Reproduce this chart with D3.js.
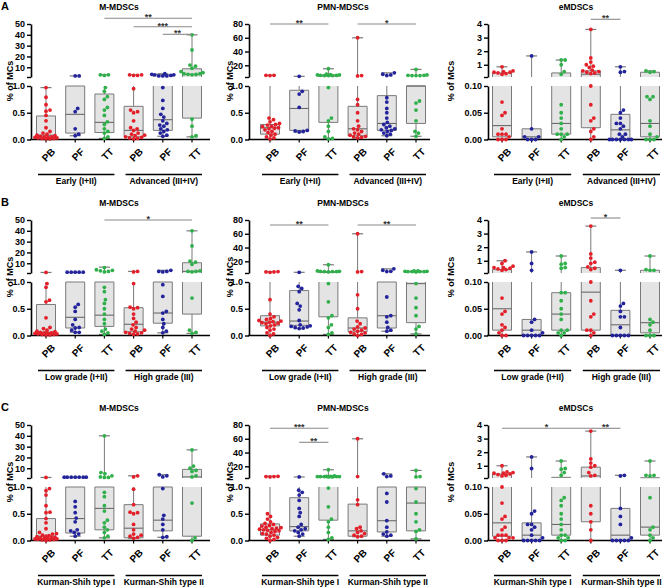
<!DOCTYPE html>
<html><head><meta charset="utf-8">
<script src="https://cdn.jsdelivr.net/npm/d3@7"></script>
<style>body{margin:0;background:#fff}text{font-family:"Liberation Sans",Arial,sans-serif;font-weight:bold}</style>
</head><body><script>
// ---------------- DATA ----------------
const categories = ["PB","PF","TT","PB","PF","TT"];
const panelTitles = ["M-MDSCs","PMN-MDSCs","eMDSCs"];
const rowLetters = ["A","B","C"];
const stageLabels = [["Early (I+II)","Advanced (III+IV)"],["Low grade (I+II)","High grade (III)"],["Kurman-Shih type I","Kurman-Shih type II"]];
const yAxisTitle = "% of MCs";
const lowerDomains = [[0,1],[0,1],[0,0.1]];
const upperDomains = [[1,50],[3,80],[0.1,4]];
const lowerTicks = [[0,0.5,1],[0,0.5,1],[0,0.05,0.1]];
const upperTicks = [[10,20,30,40,50],[20,40,60,80],[1,2,3,4]];

// box stats: [min, q1, median, q3, max]
const ptsA1 = [
 [0.97,0.79,0.65,0.55,0.53,0.45,0.35,0.22,0.15,0.12,0.1,0.08,0.07,0.06,0.05,0.05,0.04,0.04,0.03,0.03,0.02,0.02,0.01,0.01],
 [2,2,0.58,0.52,0.2,0.1,0.07],
 [3,3,2.5,0.97,0.9,0.8,0.75,0.6,0.55,0.45,0.33,0.28,0.2,0.15,0.12,0.05,0.02],
 [3,3,2.5,2.5,0.95,0.55,0.52,0.5,0.35,0.22,0.2,0.17,0.12,0.1,0.08,0.07,0.05,0.04,0.03,0.02,0.01],
 [4,3.5,3,3,2.5,2,2,2,0.97,0.73,0.58,0.47,0.42,0.35,0.3,0.27,0.25,0.2,0.18,0.15,0.12,0.08,0.06],
 [40,26,12,11,9,6,5,4,4,3.5,3.3,3,0.38,0.25,0.07,0.05]];
const boxA1 = [[0,0.03,0.08,0.44,0.97],[0.07,0.12,0.47,1.0,2],[0.02,0.13,0.32,0.85,3],[0.01,0.05,0.17,0.62,3],[0.06,0.17,0.37,3,4],[0.05,0.4,3.4,8.6,40]];
const sigA1 = [[2,5,"**"],[3,5,"***"],[4,5,"**"]];

const ptsA2 = [
 [5.5,5.5,5,0.4,0.37,0.33,0.3,0.28,0.27,0.25,0.24,0.22,0.21,0.2,0.18,0.15,0.13,0.1,0.08,0.05,0.03,0.01],
 [4,0.9,0.85,0.6,0.17,0.16,0.15,0.14],
 [15,7,6.5,6,6,5.5,5.5,5,5,5,0.97,0.4,0.35,0.25,0.15,0.05,0.02,0.01],
 [60,5,4.5,0.75,0.65,0.5,0.35,0.25,0.2,0.18,0.15,0.12,0.1,0.08,0.06,0.05,0.04,0.03],
 [9,7,6,5,0.78,0.7,0.58,0.5,0.4,0.32,0.28,0.25,0.22,0.2,0.18,0.17,0.15,0.12,0.1,0.07],
 [14,6,5.5,5.5,5,5,5,0.72,0.68,0.55,0.35,0.15,0.12,0.06]];
const boxA2 = [[0.01,0.1,0.22,0.28,5.5],[0.14,0.17,0.58,0.92,4],[0.01,0.32,4.5,6,15],[0.03,0.07,0.2,0.62,60],[0.07,0.17,0.3,0.82,9],[0.06,0.3,1.0,1.0,14]];
const sigA2 = [[0,2,"**"],[3,5,"*"]];

const ptsA3 = [
 [0.85,0.55,0.5,0.45,0.45,0.4,0.35,0.3,0.07,0.05,0.045,0.02,0.01,0.01,0.01,0.005,0,0,0],
 [1.65,0.02,0.005,0.005,0,0,0],
 [1.35,1.35,1.0,0.5,0.3,0.065,0.05,0.04,0.03,0.02,0.01,0.01,0.01,0.005,0],
 [3.6,1.5,1.2,1.0,0.9,0.8,0.6,0.55,0.5,0.45,0.4,0.35,0.1,0.065,0.04,0.035,0.02,0.015,0.005,0],
 [0.85,0.5,0.45,0.055,0.05,0.04,0.03,0.03,0.025,0.02,0.01,0.01,0.005,0,0,0,0,0,0,0],
 [0.55,0.5,0.45,0.08,0.08,0.075,0.035,0.025,0.01,0.005,0,0,0]];
const boxA3 = [[0,0.005,0.026,0.4,0.85],[0,0,0.005,0.02,1.65],[0,0.01,0.03,0.4,1.35],[0,0.022,0.3,0.55,3.6],[0,0,0.018,0.047,0.85],[0,0.005,0.03,0.45,0.55]];
const sigA3 = [[3,4,"**"]];

const ptsB1 = [
 [1.5,0.97,0.9,0.66,0.63,0.33,0.15,0.13,0.1,0.08,0.07,0.06,0.05,0.05,0.04,0.04,0.03,0.03,0.02,0.02,0.01,0.01],
 [1.8,1.8,1.8,1.8,1.8,0.58,0.53,0.45,0.3,0.2,0.15,0.14,0.1,0.06,0.06],
 [6,4,3.5,3,2.5,2,0.9,0.82,0.67,0.6,0.5,0.4,0.3,0.22,0.12,0.08,0.05,0.02],
 [2.5,2,0.97,0.53,0.52,0.5,0.4,0.32,0.25,0.2,0.15,0.12,0.1,0.08,0.06,0.05,0.04,0.03,0.02],
 [3.5,2.5,2.5,2,0.95,0.73,0.45,0.42,0.3,0.22,0.15,0.08,0.05],
 [40,26,12,11,9,3,2.5,2.5,2,0.7,0.1,0.06,0.04]];
const boxB1 = [[0,0.02,0.06,0.58,1.5],[0.06,0.14,0.34,1.0,1.8],[0.02,0.17,0.38,1.0,6.4],[0.02,0.07,0.21,0.52,2.5],[0.05,0.23,0.42,1.0,3.5],[0.04,0.4,2.5,10.5,40]];
const sigB1 = [[2,5,"*"]];

const ptsB2 = [
 [5,4.5,4.5,4,0.67,0.4,0.35,0.32,0.3,0.28,0.27,0.26,0.25,0.24,0.23,0.22,0.2,0.18,0.15,0.12,0.1,0.05,0.03,0],
 [4,0.92,0.88,0.82,0.6,0.55,0.48,0.28,0.2,0.18,0.17,0.16,0.15,0.14,0.13],
 [15,6,5.5,5.5,5,5,5,4.5,0.97,0.63,0.37,0.33,0.2,0.15,0.05,0.02],
 [60,5,4.5,0.76,0.5,0.27,0.22,0.16,0.14,0.12,0.1,0.08,0.06,0.05,0.03,0.02,0],
 [9,7,5.5,5,0.72,0.37,0.35,0.25,0.15,0.1,0.08],
 [6,6,5.5,5.5,5,5,5,5,4.5,0.97,0.7,0.52,0.37,0.17,0.12,0.03]];
const boxB2 = [[0,0.18,0.25,0.37,5],[0.13,0.19,0.27,0.84,4],[0.02,0.35,4,5,15],[0,0.07,0.14,0.33,60],[0.08,0.14,0.37,1.0,9],[0.03,0.24,0.97,5,6]];
const sigB2 = [[0,2,"**"],[3,5,"**"]];

const ptsB3 = [
 [1.0,0.8,0.6,0.5,0.5,0.45,0.4,0.35,0.3,0.07,0.045,0.04,0.02,0.015,0.01,0.005,0,0],
 [1.65,0.8,0.3,0.03,0.025,0.01,0.005,0,0,0,0,0],
 [1.35,0.8,0.75,0.5,0.45,0.08,0.08,0.065,0.05,0.04,0.03,0.01,0.01,0.005,0.005,0],
 [3.55,1.5,1.2,0.9,0.8,0.55,0.45,0.35,0.1,0.065,0.04,0.035,0.01,0.01,0.005,0],
 [0.3,0.06,0.055,0.045,0.035,0.035,0.015,0,0,0,0,0],
 [1.35,0.35,0.3,0.3,0.03,0.025,0.02,0.01,0,0,0]];
const boxB3 = [[0,0.01,0.05,0.35,1.0],[0,0,0.01,0.03,1.65],[0,0.01,0.04,0.08,1.35],[0,0.01,0.081,0.5,3.55],[0,0,0.02,0.047,0.3],[0,0.005,0.024,0.3,1.35]];
const sigB3 = [[3,4,"*"]];

const ptsC1 = [
 [1.5,0.97,0.93,0.85,0.65,0.53,0.52,0.41,0.33,0.22,0.15,0.13,0.12,0.1,0.09,0.08,0.07,0.06,0.05,0.05,0.04,0.04,0.03,0.03,0.02,0.02,0.01,0.01,0],
 [1.8,1.8,1.8,1.8,1.8,1.8,1.8,0.73,0.63,0.52,0.42,0.35,0.2,0.18,0.15,0.12,0.08],
 [40,6,5,3,2,1.5,1.5,0.9,0.82,0.65,0.55,0.38,0.33,0.25,0.2,0.15,0.08,0.05],
 [3,2,0.96,0.67,0.53,0.52,0.5,0.3,0.2,0.12,0.1,0.08,0.06,0.04],
 [4,3,2,0.97,0.47,0.4,0.3,0.2,0.07,0.06],
 [27,12,10,8,7,3,2,0.7,0.05,0]];
const boxC1 = [[0,0.02,0.08,0.41,1.5],[0.08,0.14,0.41,1.0,1.8],[0.05,0.2,0.6,1.0,40],[0.04,0.05,0.23,0.67,3],[0.06,0.18,0.38,1.0,4],[0,0.08,2,9,27]];
const sigC1 = [];

const ptsC2 = [
 [5.5,5,5,4.5,0.5,0.45,0.4,0.35,0.32,0.3,0.28,0.27,0.25,0.24,0.23,0.22,0.21,0.2,0.19,0.18,0.17,0.15,0.13,0.12,0.1,0.08,0.06,0.04,0.02,0],
 [4.5,0.94,0.9,0.85,0.75,0.6,0.52,0.45,0.3,0.25,0.22,0.2,0.18,0.15,0.12,0.08],
 [15,6,5.5,5.5,5,5,5,5,5,4.5,4.5,0.98,0.63,0.4,0.35,0.25,0.15,0.05,0.02],
 [60,5,0.76,0.67,0.25,0.22,0.18,0.15,0.13,0.1,0.08,0.07],
 [9,6,5,0.88,0.72,0.37,0.25,0.16,0.12,0.1,0.08],
 [14,5,4.5,0.97,0.72,0.5,0.35,0.2,0.17,0.03]];
const boxC2 = [[0,0.1,0.2,0.31,5.5],[0.08,0.18,0.26,0.8,4.5],[0.02,0.38,4.5,5.5,15],[0.07,0.08,0.18,0.68,60],[0.08,0.16,0.37,1.0,9],[0.03,0.18,0.7,1.0,14]];
const sigC2 = [[0,2,"***"],[1,2,"**"]];

const ptsC3 = [
 [1.0,0.55,0.5,0.45,0.45,0.4,0.35,0.3,0.25,0.1,0.07,0.045,0.04,0.025,0.02,0.01,0.01,0.01,0.005,0.005,0.005,0,0,0],
 [1.65,0.8,0.055,0.05,0.03,0.03,0.025,0.02,0.01,0.005,0,0,0,0,0],
 [1.35,0.8,0.75,0.5,0.3,0.08,0.075,0.065,0.05,0.04,0.03,0.02,0.01,0.01,0.005,0.005,0,0],
 [3.55,1.5,1.2,1.0,0.9,0.5,0.3,0.25,0.065,0.05,0.035,0.02,0],
 [0.3,0.25,0.06,0.045,0.03,0.005,0,0,0,0,0],
 [1.35,0.3,0.3,0.25,0.08,0.025,0.02,0.01,0.005,0]];
const boxC3 = [[0,0.008,0.033,0.4,1.0],[0,0,0.01,0.033,1.65],[0,0.01,0.03,0.15,1.35],[0,0.035,0.25,0.9,3.55],[0,0,0.01,0.06,0.3],[0,0.01,0.025,0.12,1.35]];
const sigC3 = [[0,3,"*"],[3,4,"**"]];

// ---------------- LAYOUT / STYLE ----------------
const W = 669, H = 588;
const colors = ["#e3202a","#23239c","#2fb04a"];
const rowTop = [24,220,425];
const colAxisX = [31,249,488], colAxisEnd = [210,430,662];
const colFirst = [46,270,502], colLast = [192,416,650];
const yLabelX = [10,230,451];
const UP_H = 53, LOW_TOP = 62, ZERO = 115.5;
const sigOffsets = {A1:[-5.7,2.7,10.3],A2:[0,0],A3:[-4.7],B1:[0],B2:[5,5],B3:[-2],C1:[],C2:[3.3,17.3],C3:[3.3,3.3]};
const lowerFmt = [d3.format(".1f"),d3.format(".1f"),d3.format(".2f")];
const R = 1.9;

const panels = [
 ["A1",ptsA1,boxA1,sigA1],["A2",ptsA2,boxA2,sigA2],["A3",ptsA3,boxA3,sigA3],
 ["B1",ptsB1,boxB1,sigB1],["B2",ptsB2,boxB2,sigB2],["B3",ptsB3,boxB3,sigB3],
 ["C1",ptsC1,boxC1,sigC1],["C2",ptsC2,boxC2,sigC2],["C3",ptsC3,boxC3,sigC3]];

const svg = d3.select("body").append("svg").attr("width",W).attr("height",H);

rowLetters.forEach((L,r)=>{
  svg.append("text").attr("x",1).attr("y",rowTop[r]-14.5).attr("font-size",11).text(L);
});

// bounded beeswarm: offsets limited to +-maxOff, overlap allowed when crowded
function swarm(ys, r, maxOff){
  const order = ys.map((y,i)=>i).sort((a,b)=>ys[b]-ys[a]);
  const placed = [], out = new Array(ys.length);
  const minD = 2*r;
  const cands = [0];
  for(let s=0.5;s<=maxOff;s+=0.5){ cands.push(s,-s); }
  order.forEach(i=>{
    const y = ys[i];
    let best = 0, bestD = -1;
    for(const off of cands){
      let md = Infinity;
      for(const p of placed){ const d = Math.hypot(p[0]-off,p[1]-y); if(d<md) md=d; }
      if(md>=minD){ best = off; bestD = md; break; }
      if(md>bestD){ bestD = md; best = off; }
    }
    placed.push([best,y]); out[i]=best;
  });
  return out;
}

panels.forEach(([key,pts,box,sig],idx)=>{
  const r = Math.floor(idx/3), c = idx%3;
  const T = rowTop[r];
  const g = svg.append("g");
  const yU = d3.scaleLinear().domain(upperDomains[c]).range([T+UP_H,T]).clamp(true);
  const yL = d3.scaleLinear().domain(lowerDomains[c]).range([T+ZERO,T+LOW_TOP]);
  const lowMin = lowerDomains[c][0], lowMax = lowerDomains[c][1];
  const upMin = upperDomains[c][0], upMax = upperDomains[c][1];
  const yOf = v => v<=lowMax ? yL(v) : yU(v);
  const x = d3.scalePoint().domain(d3.range(categories.length)).range([colFirst[c],colLast[c]]);
  const x0 = colAxisX[c], yZero = T+ZERO;
  const segs = [{lo:lowMin,hi:lowMax,y:yL},{lo:upMin,hi:upMax,y:yU}];
  const bw = 19, cw = 11;

  // title
  g.append("text").attr("x",(colFirst[c]+colLast[c])/2).attr("y",T-14).attr("text-anchor","middle")
    .attr("font-size",8.5).text(panelTitles[c]);

  // boxes + whiskers
  box.forEach((b,i)=>{
    const [mn,q1,md,q3,mx] = b, cx = x(i);
    segs.forEach(s=>{
      const a = Math.max(q1,s.lo), bb = Math.min(q3,s.hi);
      if(a<bb){
        g.append("rect").attr("x",cx-bw/2).attr("width",bw).attr("y",s.y(bb)).attr("height",s.y(a)-s.y(bb))
          .attr("fill","#e4e4e4");
        [cx-bw/2,cx+bw/2].forEach(xx=>g.append("line").attr("x1",xx).attr("x2",xx).attr("y1",s.y(a)).attr("y2",s.y(bb))
          .attr("stroke","#7a7a7a").attr("stroke-width",1));
        if(q1>=s.lo) g.append("line").attr("x1",cx-bw/2).attr("x2",cx+bw/2).attr("y1",s.y(q1)).attr("y2",s.y(q1)).attr("stroke","#7a7a7a");
        if(q3<=s.hi) g.append("line").attr("x1",cx-bw/2).attr("x2",cx+bw/2).attr("y1",s.y(q3)).attr("y2",s.y(q3)).attr("stroke","#7a7a7a");
        if(md>=a && md<=bb) g.append("line").attr("x1",cx-bw/2).attr("x2",cx+bw/2).attr("y1",s.y(md)).attr("y2",s.y(md)).attr("stroke","#6a6a6a").attr("stroke-width",1.1);
      }
      [[mn,q1],[q3,mx]].forEach(([lo,hi])=>{
        const a2 = Math.max(lo,s.lo), b2 = Math.min(hi,s.hi);
        if(a2<b2) g.append("line").attr("x1",cx).attr("x2",cx).attr("y1",s.y(a2)).attr("y2",s.y(b2)).attr("stroke","#7a7a7a");
      });
    });
    [mn,mx].forEach(v=>g.append("line").attr("x1",cx-cw/2).attr("x2",cx+cw/2).attr("y1",yOf(v)).attr("y2",yOf(v))
      .attr("stroke","#7a7a7a").attr("stroke-width",1.2));
  });

  // axes
  const styleAxis = sel => {
    sel.attr("font-size",9).attr("font-family",null);
    sel.select(".domain").attr("stroke","#000").attr("stroke-width",1.6);
    sel.selectAll(".tick line").attr("stroke","#000").attr("stroke-width",1.4);
    sel.selectAll(".tick text").attr("fill","#000");
  };
  g.append("g").attr("transform",`translate(${x0},0)`)
    .call(d3.axisLeft(yU).tickValues([upMin,...upperTicks[c]]).tickFormat(d=>d===upMin?"":d).tickSize(4).tickSizeOuter(0).tickPadding(2))
    .call(styleAxis);
  g.append("g").attr("transform",`translate(${x0},0)`)
    .call(d3.axisLeft(yL).tickValues(lowerTicks[c]).tickFormat(lowerFmt[c]).tickSize(4).tickSizeOuter(0).tickPadding(2))
    .call(styleAxis);
  g.append("line").attr("x1",x0-0.8).attr("x2",colAxisEnd[c]).attr("y1",yZero).attr("y2",yZero).attr("stroke","#000").attr("stroke-width",1.6);
  categories.forEach((cat,i)=>{
    g.append("line").attr("x1",x(i)).attr("x2",x(i)).attr("y1",yZero).attr("y2",yZero+3).attr("stroke","#000").attr("stroke-width",1.2);
    g.append("text").attr("transform",`translate(${x(i)+5},${yZero+8}) rotate(-45)`).attr("text-anchor","end")
      .attr("dy","0.7em").attr("font-size",10).text(cat);
  });

  // y title
  g.append("text").attr("transform",`translate(${yLabelX[c]+3},${T+57}) rotate(-90)`).attr("text-anchor","middle")
    .attr("font-size",9).text(yAxisTitle);

  // points
  pts.forEach((arr,i)=>{
    const ys = arr.map(yOf);
    const offs = swarm(ys,R,11);
    g.selectAll(null).data(arr).enter().append("circle")
      .attr("cx",(d,k)=>x(i)+offs[k]).attr("cy",(d,k)=>ys[k]).attr("r",R)
      .attr("fill",colors[i%3]);
  });

  // significance
  sig.forEach(([a,b,lab],k)=>{
    const yy = T + sigOffsets[key][k];
    g.append("line").attr("x1",x(a)).attr("x2",x(b)).attr("y1",yy).attr("y2",yy).attr("stroke","#8a8a8a").attr("stroke-width",1.1);
    g.append("text").attr("x",(x(a)+x(b))/2).attr("y",yy+2).attr("text-anchor","middle").attr("font-size",9).attr("fill","#333").text(lab);
  });

  // stage brackets
  stageLabels[r].forEach((lab,k)=>{
    const xs = x(3*k)-8, xe = x(3*k+2)+10;
    g.append("line").attr("x1",xs).attr("x2",xe).attr("y1",yZero+35).attr("y2",yZero+35).attr("stroke","#000").attr("stroke-width",1.3);
    g.append("text").attr("x",(xs+xe)/2).attr("y",yZero+44).attr("text-anchor","middle").attr("font-size",8.5).text(lab);
  });
});
</script></body></html>
